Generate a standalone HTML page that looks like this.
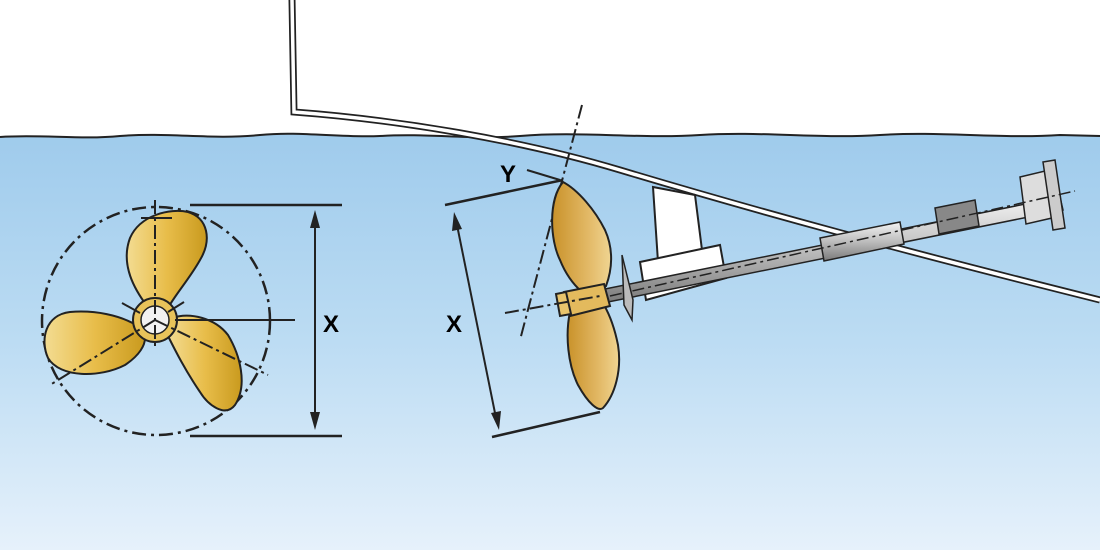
<!DOCTYPE html>
<html><head><meta charset="utf-8"><style>
html,body{margin:0;padding:0;width:1100px;height:550px;overflow:hidden;background:#fff}
svg{display:block}
text{font-family:"Liberation Sans",sans-serif;font-weight:bold}
</style></head><body>
<svg width="1100" height="550" viewBox="0 0 1100 550" xmlns="http://www.w3.org/2000/svg">
<defs>
<linearGradient id="water" x1="0" y1="0" x2="0" y2="1">
<stop offset="0" stop-color="#9fcbec"/><stop offset="0.5" stop-color="#bcdcf3"/><stop offset="1" stop-color="#e6f1fb"/>
</linearGradient>
<linearGradient id="brass" x1="0" y1="0" x2="1" y2="0">
<stop offset="0" stop-color="#f3dc92"/><stop offset="0.5" stop-color="#e8bd4a"/><stop offset="1" stop-color="#c99a1e"/>
</linearGradient>
<linearGradient id="brass2" x1="0" y1="0" x2="1" y2="0">
<stop offset="0" stop-color="#c9922a"/><stop offset="0.6" stop-color="#e2b865"/><stop offset="1" stop-color="#f0d592"/>
</linearGradient>
<linearGradient id="steel" x1="0" y1="0" x2="0" y2="1">
<stop offset="0" stop-color="#f4f4f4"/><stop offset="0.5" stop-color="#bdbdbd"/><stop offset="1" stop-color="#7a7a7a"/>
</linearGradient>
</defs>
<!-- water -->
<path d="M0,137 C40,134 80,140 120,136 C170,132 210,140 260,135 C300,131 340,138 380,136 C430,133 470,140 520,136 C580,131 640,139 700,135 C760,131 820,139 880,135 C940,131 1000,139 1060,135 L1100,136 L1100,550 L0,550 Z" fill="url(#water)"/>
<path d="M0,137 C40,134 80,140 120,136 C170,132 210,140 260,135 C300,131 340,138 380,136 C430,133 470,140 520,136 C580,131 640,139 700,135 C760,131 820,139 880,135 C940,131 1000,139 1060,135 L1100,136" fill="none" stroke="#222" stroke-width="2"/>
<!-- hull double line -->
<path d="M292,0 L294,112 C400,120 520,140 620,170 C760,212 900,250 1100,300" fill="none" stroke="#222" stroke-width="7"/>
<path d="M292,0 L294,112 C400,120 520,140 620,170 C760,212 900,250 1100,300" fill="none" stroke="#fff" stroke-width="3.5"/>

<!-- LEFT PROPELLER -->
<circle cx="156" cy="321" r="114" fill="none" stroke="#222" stroke-width="2.5" stroke-dasharray="14,5,3,5"/>
<path d="M147,306 C135,290 120,265 130,238 C140,215 170,208 188,212 C208,218 212,240 200,260 C190,278 175,295 168,308 Z" fill="url(#brass)" stroke="#222" stroke-width="2"/>
<path d="M138,326 C120,315 95,310 70,312 C45,315 40,340 48,358 C60,378 100,378 125,365 C140,355 145,345 145,338 Z" fill="url(#brass)" stroke="#222" stroke-width="2"/>
<path d="M172,318 C190,312 215,318 228,335 C240,355 248,385 235,405 C225,418 208,405 200,392 C185,370 175,350 168,336 Z" fill="url(#brass)" stroke="#222" stroke-width="2"/>
<circle cx="155" cy="320" r="22" fill="#e8c35a" stroke="#222" stroke-width="2"/>
<circle cx="155" cy="320" r="14" fill="#f2f2f2" stroke="#222" stroke-width="1.5"/>
<line x1="155" y1="200" x2="155" y2="350" stroke="#222" stroke-width="2" stroke-dasharray="14,4,3,4"/>
<line x1="141" y1="218" x2="172" y2="218" stroke="#222" stroke-width="2"/>
<line x1="155" y1="320" x2="50" y2="385" stroke="#222" stroke-width="2" stroke-dasharray="14,4,3,4"/>
<line x1="155" y1="320" x2="268" y2="375" stroke="#222" stroke-width="2" stroke-dasharray="14,4,3,4"/>
<line x1="175" y1="320" x2="295" y2="320" stroke="#222" stroke-width="2"/>
<line x1="122" y1="303" x2="140" y2="313" stroke="#222" stroke-width="2"/>
<line x1="168" y1="312" x2="184" y2="302" stroke="#222" stroke-width="2"/>
<line x1="190" y1="205" x2="342" y2="205" stroke="#222" stroke-width="2.5"/>
<line x1="190" y1="436" x2="342" y2="436" stroke="#222" stroke-width="2.5"/>
<line x1="315" y1="222" x2="315" y2="418" stroke="#222" stroke-width="2"/>
<path d="M315,210 L310,228 L320,228 Z M315,430 L310,412 L320,412 Z" fill="#222"/>
<text x="323" y="332" font-size="24">X</text>

<!-- RIGHT PROPELLER -->
<line x1="582" y1="105" x2="520" y2="340" stroke="#222" stroke-width="2" stroke-dasharray="14,4,3,4"/>
<line x1="445" y1="205" x2="563" y2="180" stroke="#222" stroke-width="2.5"/>
<line x1="527" y1="170" x2="560" y2="180" stroke="#222" stroke-width="2"/>
<line x1="492" y1="437" x2="600" y2="412" stroke="#222" stroke-width="2.5"/>
<line x1="457" y1="225" x2="496" y2="418" stroke="#222" stroke-width="2"/>
<path d="M454,212 L452,231 L462,229 Z M499,430 L491,413 L501,411 Z" fill="#222"/>
<text x="500" y="182" font-size="24">Y</text>
<text x="446" y="332" font-size="24">X</text>
<!-- strut -->
<path d="M653,187 L695,195 L702,250 L658,262 Z" fill="#fff" stroke="#222" stroke-width="2"/>
<path d="M640,262 L720,245 L726,278 L646,300 Z" fill="#fff" stroke="#222" stroke-width="2"/>
<!-- shaft -->
<path d="M600,290 L1060,197 L1063,210 L603,303 Z" fill="url(#steel)" stroke="#222" stroke-width="1.5"/>
<path d="M820,238 L900,222 L904,244 L824,261 Z" fill="url(#steel)" stroke="#222" stroke-width="1.5"/>
<path d="M935,208 L975,200 L979,226 L939,234 Z" fill="#888" stroke="#222" stroke-width="1.5"/>
<path d="M1020,177 L1045,171 L1052,218 L1026,224 Z" fill="#ddd" stroke="#222" stroke-width="1.5"/>
<path d="M1043,162 L1055,160 L1065,228 L1053,230 Z" fill="#ccc" stroke="#222" stroke-width="1.5"/>
<line x1="610" y1="296" x2="1075" y2="191" stroke="#222" stroke-width="1.5" stroke-dasharray="12,4,3,4"/>
<!-- flange disk -->
<path d="M622,255 L633,300 L632,320 L624,305 Z" fill="#bbb" stroke="#222" stroke-width="1.5"/>
<!-- blades -->
<path d="M563,182 C548,200 550,240 560,260 C566,275 574,285 582,292 L606,286 C612,270 614,250 605,230 C595,210 578,190 563,182 Z" fill="url(#brass2)" stroke="#222" stroke-width="2"/>
<path d="M570,312 C565,335 568,365 578,385 C588,403 598,412 603,408 C615,395 622,370 618,345 C614,325 608,312 604,305 Z" fill="url(#brass2)" stroke="#222" stroke-width="2"/>
<path d="M564,292 L604,284 L610,306 L570,316 Z" fill="#e3ba5d" stroke="#222" stroke-width="2"/>
<path d="M556,294 L566,292 L571,314 L560,316 Z" fill="#e8c46c" stroke="#222" stroke-width="2"/>
<line x1="505" y1="313" x2="600" y2="296" stroke="#222" stroke-width="2" stroke-dasharray="14,4,3,4"/>
</svg>
</body></html>
